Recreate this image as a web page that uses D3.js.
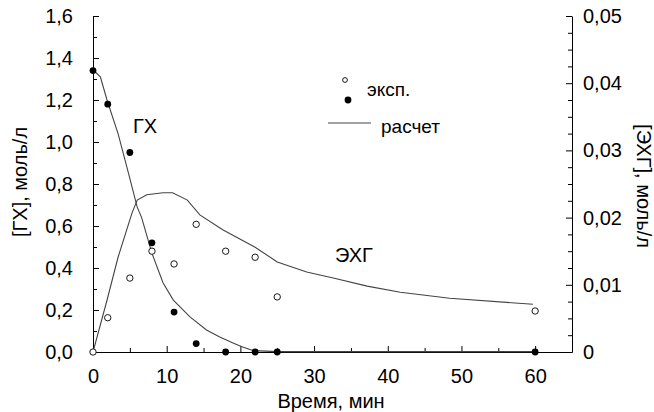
<!DOCTYPE html>
<html><head><meta charset="utf-8">
<script src="https://cdn.jsdelivr.net/npm/d3@7"></script>
<style>
body{margin:0;background:#fff;}
svg{display:block;font-family:"Liberation Sans",Arial,sans-serif;}
</style></head>
<body><svg id="c" width="654" height="412"></svg>
<script>
// ---- data ----
const xTicks = [0,10,20,30,40,50,60];
const leftTicks = [0,0.2,0.4,0.6,0.8,1.0,1.2,1.4,1.6];
const rightTicks = [0,0.01,0.02,0.03,0.04,0.05];
// ГХ experimental (filled), left axis, моль/л
const ghExpT = [0,2,5,8,11,14,18,22,25,60];
const ghExpV = [1.34,1.18,0.95,0.52,0.19,0.04,0,0,0,0];
// ЭХГ experimental (open), right axis, моль/л
const ehgExpT = [0,2,5,8,11,14,18,22,25,60];
const ehgExpV = [0,0.0051,0.0110,0.0150,0.0131,0.0190,0.0150,0.0141,0.0082,0.0061];
// ГХ calculated
const ghCalcT = [0,1,1.9,3.4,4.6,6,6.6,8,9.5,10.9,13.2,15.4,17.2,19,20.3,21.7,25,60];
const ghCalcV = [1.344,1.31,1.2,1.04,0.88,0.69,0.64,0.47,0.33,0.247,0.166,0.105,0.071,0.043,0.024,0.007,0.002,0.002];
// ЭХГ calculated
const ehgCalcT = [0,1.9,3.4,5.3,6,7.3,9.5,10.8,12.8,14.5,17.6,22,25,29,32.6,37.2,41.7,48.4,59.7];
const ehgCalcV = [0,0.0077,0.0141,0.0207,0.0226,0.0234,0.0237,0.0237,0.0226,0.0204,0.0182,0.0156,0.0134,0.0119,0.0110,0.0098,0.0089,0.0080,0.0071];

const fmt = d3.format(".1f");

const svg = d3.select("#c");
const X0=93, X1=572, Y0=352, Y1=16;
const x = d3.scaleLinear().domain([0,65]).range([X0,X1]);
const yL = d3.scaleLinear().domain([0,1.6]).range([Y0,Y1]);
const yR = d3.scaleLinear().domain([0,0.05]).range([Y0,Y1]);
const FS = 20;

// minor ticks
svg.append("g").attr("transform",`translate(${X0},0)`)
  .call(d3.axisLeft(yL).tickValues(d3.range(0.1,1.6,0.2)).tickSize(-4).tickFormat(""))
  .call(g=>g.select(".domain").remove());
svg.append("g").attr("transform",`translate(${X1},0)`)
  .call(d3.axisRight(yR).tickValues(d3.range(0,0.05,0.0025).filter(v=>Math.abs(v/0.01-Math.round(v/0.01))>0.01)).tickSize(-4).tickFormat(""))
  .call(g=>g.select(".domain").remove());
svg.append("g").attr("transform",`translate(0,${Y0})`)
  .call(d3.axisBottom(x).tickValues([5,15,25,35,45,55]).tickSize(-4).tickFormat(""))
  .call(g=>g.select(".domain").remove());

// major axes
const gL = svg.append("g").attr("transform",`translate(${X0},0)`)
  .call(d3.axisLeft(yL).tickValues(leftTicks).tickSizeInner(-6).tickSizeOuter(0).tickPadding(20)
    .tickFormat(d=>fmt(d).replace(".",",")));
const gR = svg.append("g").attr("transform",`translate(${X1},0)`)
  .call(d3.axisRight(yR).tickValues(rightTicks).tickSizeInner(-6).tickSizeOuter(0).tickPadding(11)
    .tickFormat(d=>d===0?"0":d3.format(".2f")(d).replace(".",",")));
const gB = svg.append("g").attr("transform",`translate(0,${Y0})`)
  .call(d3.axisBottom(x).tickValues(xTicks).tickSizeInner(-6).tickSizeOuter(0).tickPadding(14)
    .tickFormat(d=>String(d)));
[gL,gR,gB].forEach(g=>{
  g.selectAll("text").attr("font-size",FS).attr("font-family","Liberation Sans, Arial").attr("fill","#000");
  g.selectAll("line,path").attr("stroke","#000");
});
gB.selectAll("text").attr("dy","0.85em");
svg.selectAll(".domain").attr("stroke","#000");

// axis titles
svg.append("text").attr("x",331).attr("y",408).attr("text-anchor","middle")
  .attr("font-size",FS).text("Время, мин");
svg.append("text").attr("transform","translate(27,182) rotate(-90)").attr("text-anchor","middle")
  .attr("font-size",FS).text("[ГХ], моль/л");
svg.append("text").attr("transform","translate(637,186) rotate(90)").attr("text-anchor","middle")
  .attr("font-size",FS).text("[ЭХГ], моль/л");

// calculated lines
const lineL = d3.line().x(d=>x(d[0])).y(d=>yL(d[1]));
const lineR = d3.line().x(d=>x(d[0])).y(d=>yR(d[1]));
svg.append("path").attr("d",lineL(d3.zip(ghCalcT,ghCalcV))).attr("fill","none").attr("stroke","#444").attr("stroke-width",1.1);
svg.append("path").attr("d",lineR(d3.zip(ehgCalcT,ehgCalcV))).attr("fill","none").attr("stroke","#444").attr("stroke-width",1.1);

// experimental points
svg.append("g").selectAll("circle").data(d3.zip(ehgExpT,ehgExpV)).join("circle")
  .attr("cx",d=>x(d[0])).attr("cy",d=>yR(d[1])).attr("r",3.2)
  .attr("fill","#fff").attr("stroke","#000").attr("stroke-width",0.9);
svg.append("g").selectAll("circle").data(d3.zip(ghExpT,ghExpV)).join("circle")
  .attr("cx",d=>x(d[0])).attr("cy",d=>yL(d[1])).attr("r",3.4).attr("fill","#000");

// labels
svg.append("text").attr("x",145).attr("y",133).attr("text-anchor","middle").attr("font-size",FS).text("ГХ");
svg.append("text").attr("x",354).attr("y",262).attr("text-anchor","middle").attr("font-size",FS).text("ЭХГ");

// legend
svg.append("circle").attr("cx",345).attr("cy",80).attr("r",2.4).attr("fill","#fff").attr("stroke","#000").attr("stroke-width",0.9);
svg.append("circle").attr("cx",348).attr("cy",100).attr("r",3.4).attr("fill","#000");
svg.append("text").attr("x",367).attr("y",96).attr("font-size",19).text("эксп.");
svg.append("line").attr("x1",328).attr("x2",371).attr("y1",123).attr("y2",123).attr("stroke","#444").attr("stroke-width",1.1);
svg.append("text").attr("x",381).attr("y",133).attr("font-size",19).text("расчет");
</script></body></html>
